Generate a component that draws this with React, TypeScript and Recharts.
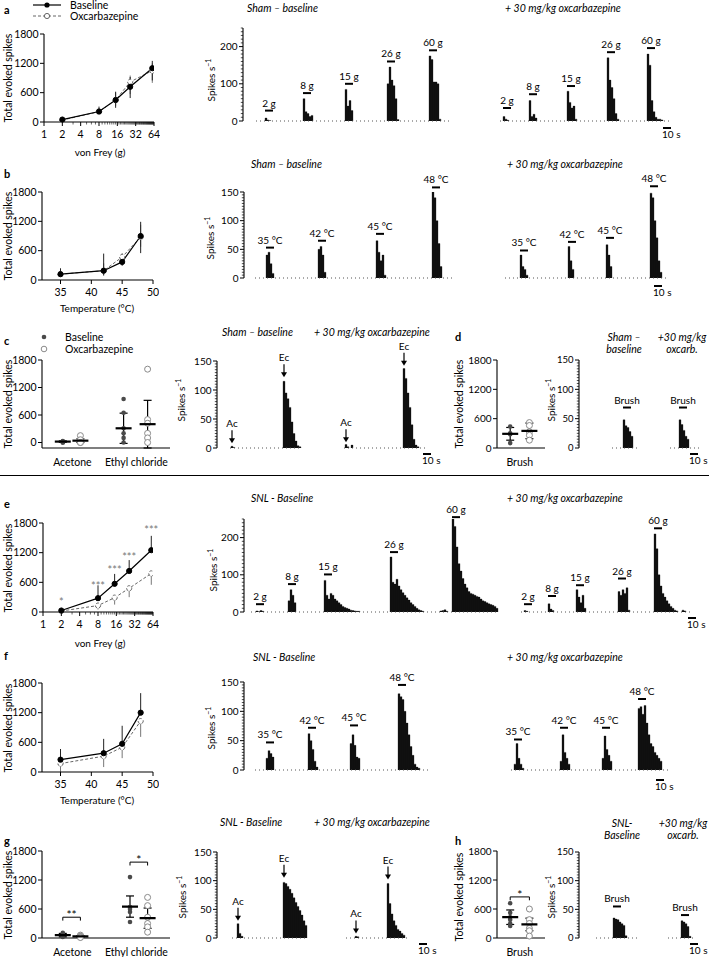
import React from 'react'
import {
  LineChart, Line, BarChart, Bar, ScatterChart, Scatter, XAxis, YAxis,
  ErrorBar, ReferenceDot, ReferenceLine,
} from 'recharts'

const FONT = "Lato, 'Open Sans', sans-serif"
const BIN = 2.5 // seconds per histogram bin

// ---- line charts (total evoked spikes) ----
const spikeTicks = [0, 600, 1200, 1800]
const vfForce = [2, 8, 15, 26, 60]
const vfMajor = [1, 2, 4, 8, 16, 32, 64]
const vfMinor = Array.from({ length: 64 }, (_, i) => i + 1)
const temps = [35, 42, 45, 48]
const tempTicks = [35, 40, 45, 50]

const aBaseMean = [50, 215, 450, 720, 1100]
const aBaseErr = [[20, 20], [60, 100], [160, 170], [230, 200], [250, 150]]
const aOxMean = [40, 210, 450, 820, 1050]
const aOxErr = [[20, 20], [50, 60], [120, 150], [250, 130], [250, 150]]

const bBaseMean = [120, 190, 370, 900]
const bBaseErr = [[60, 120], [100, 350], [80, 120], [350, 290]]
const bOxMean = [120, 190, 470, 880]
const bOxErr = [[50, 80], [80, 150], [70, 80], [200, 250]]

const eBaseMean = [30, 280, 570, 830, 1250]
const eBaseErr = [[0, 20], [0, 260], [0, 200], [0, 220], [0, 290]]
const eOxMean = [20, 130, 290, 480, 780]
const eOxErr = [[15, 0], [80, 0], [140, 0], [180, 0], [230, 0]]
const eStars = ['*', '***', '***', '***', '***']
const eStarY = [200, 520, 840, 1110, 1650]

const fBaseMean = [250, 380, 570, 1200]
const fBaseErr = [[0, 215], [0, 290], [0, 365], [0, 395]]
const fOxMean = [170, 320, 500, 1030]
const fOxErr = [[170, 0], [220, 0], [220, 0], [320, 0]]

// ---- scatter / mean ± SD ----
const coldCats = ['Acetone', 'Ethyl chloride']
const brushCats = ['Brush']
const cBasePts = [[30, 20, 10, 0, 0], [950, 650, 310, 200, 100, 0]]
const cOxPts = [[150, 60, 0, 0], [1600, 500, 420, 200, 100, 0]]
const cBaseMean = [20, 310]
const cBaseSd = [15, 330]
const cOxMean = [40, 400]
const cOxSd = [40, 520]

const gBasePts = [[110, 80, 60, 40, 20], [1260, 640, 600, 540, 330]]
const gOxPts = [[60, 40, 30, 20, 10], [840, 670, 430, 300, 230, 120]]
const gBaseMean = [60, 650]
const gBaseSd = [35, 220]
const gOxMean = [35, 410]
const gOxSd = [15, 210]
const gSig = [{ s: '**', y: 430 }, { s: '*', y: 1570 }]

const dBasePts = [[440, 300, 280, 100]]
const dOxPts = [[520, 460, 330, 260, 160]]
const dBaseMean = [290]
const dBaseSd = [130]
const dOxMean = [350]
const dOxSd = [160]

const hBasePts = [[720, 520, 430, 380, 300, 250]]
const hOxPts = [[600, 380, 300, 200, 150, 40]]
const hBaseMean = [430]
const hBaseSd = [150]
const hOxMean = [280]
const hOxSd = [130]
const hSig = [{ s: '*', y: 850 }]

// ---- histograms (spikes per bin), t = onset in s ----
type Burst = { t: number; v: number[]; tag?: string; lv?: number }

const aBase: Burst[] = [
  { t: 27.5, v: [8, 3, 1], tag: '2 g', lv: 28 },
  { t: 75, v: [60, 25, 20, 12, 15], tag: '8 g', lv: 75 },
  { t: 127.5, v: [85, 40, 55, 28], tag: '15 g', lv: 100 },
  { t: 180, v: [100, 145, 110, 95, 60, 4], tag: '26 g', lv: 160 },
  { t: 232.5, v: [175, 165, 105, 105, 100, 5], tag: '60 g', lv: 190 },
]
const aOx: Burst[] = [
  { t: 325, v: [12, 5, 2], tag: '2 g', lv: 35 },
  { t: 357.5, v: [55, 12, 18, 8], tag: '8 g', lv: 72 },
  { t: 405, v: [80, 50, 35, 40, 5], tag: '15 g', lv: 94 },
  { t: 455, v: [170, 110, 90, 60, 20, 5], tag: '26 g', lv: 185 },
  { t: 505, v: [180, 150, 55, 25, 10, 5, 5, 3], tag: '60 g', lv: 196 },
]
const bBase: Burst[] = [
  { t: 27.5, v: [40, 45, 25, 8], tag: '35 °C', lv: 53 },
  { t: 92.5, v: [50, 55, 40, 10], tag: '42 °C', lv: 65 },
  { t: 165, v: [65, 45, 30, 40, 5], tag: '45 °C', lv: 77 },
  { t: 235, v: [150, 140, 100, 60, 20], tag: '48 °C', lv: 158 },
]
const bOx: Burst[] = [
  { t: 345, v: [40, 20, 15, 5], tag: '35 °C', lv: 48 },
  { t: 405, v: [55, 30, 15], tag: '42 °C', lv: 63 },
  { t: 452.5, v: [58, 40, 20], tag: '45 °C', lv: 70 },
  { t: 507.5, v: [148, 140, 100, 70, 30, 10], tag: '48 °C', lv: 160 },
]
const cBase: Burst[] = [
  { t: 17.5, v: [3, 1], tag: 'Ac', lv: 8 },
  { t: 82.5, v: [115, 95, 85, 70, 45, 25, 12, 4, 2], tag: 'Ec', lv: 122 },
]
const cOx: Burst[] = [
  { t: 160, v: [6, 2, 0, 5], tag: 'Ac', lv: 10 },
  { t: 232.5, v: [137, 120, 95, 70, 40, 15, 5, 2], tag: 'Ec', lv: 142 },
]
const dBase: Burst[] = [{ t: 55, v: [48, 38, 35, 28, 20], tag: 'Brush', lv: 69 }]
const dOx: Burst[] = [{ t: 125, v: [48, 40, 30, 20, 15], tag: 'Brush', lv: 69 }]
const eBase: Burst[] = [
  { t: 15, v: [3, 1, 4, 2], tag: '2 g', lv: 21 },
  { t: 55, v: [30, 60, 45, 25], tag: '8 g', lv: 75 },
  { t: 100, v: [85, 45, 35, 50, 45, 35, 30, 25, 20, 15, 12, 10, 8, 5, 4, 3, 2, 2], tag: '15 g', lv: 101 },
  { t: 182.5, v: [148, 80, 75, 88, 70, 60, 52, 45, 38, 32, 25, 20, 15, 10, 6, 4, 2], tag: '26 g', lv: 161 },
  { t: 245, v: [3, 4, 6, 2] },
  { t: 260, v: [250, 230, 175, 130, 110, 90, 75, 65, 55, 50, 48, 45, 42, 40, 35, 30, 28, 25, 22, 20, 18, 15, 10], tag: '60 g', lv: 255 },
]
const eOx: Burst[] = [
  { t: 350, v: [4, 2], tag: '2 g', lv: 21 },
  { t: 380, v: [22, 8, 4], tag: '8 g', lv: 43 },
  { t: 415, v: [60, 40, 25, 45, 10], tag: '15 g', lv: 72 },
  { t: 467.5, v: [55, 45, 60, 50, 65, 5], tag: '26 g', lv: 90 },
  { t: 512.5, v: [210, 170, 100, 70, 50, 40, 30, 22, 15, 10, 5, 3], tag: '60 g', lv: 225 },
  { t: 547.5, v: [5, 3] },
]
const fBase: Burst[] = [
  { t: 27.5, v: [20, 33, 28, 22], tag: '35 °C', lv: 47 },
  { t: 80, v: [62, 50, 35, 15, 5], tag: '42 °C', lv: 72 },
  { t: 132.5, v: [45, 60, 42, 22, 20], tag: '45 °C', lv: 76 },
  { t: 192.5, v: [130, 125, 120, 100, 80, 60, 40, 25, 10, 5, 3], tag: '48 °C', lv: 145 },
]
const fOx: Burst[] = [
  { t: 337.5, v: [10, 45, 20, 10, 3], tag: '35 °C', lv: 52 },
  { t: 395, v: [15, 60, 30, 20, 10], tag: '42 °C', lv: 72 },
  { t: 447.5, v: [20, 58, 35, 25, 15], tag: '45 °C', lv: 72 },
  { t: 492.5, v: [105, 108, 95, 110, 80, 60, 45, 40, 30, 25, 20, 15], tag: '48 °C', lv: 121 },
]
const gBase: Burst[] = [
  { t: 25, v: [25, 8, 3], tag: 'Ac', lv: 30 },
  { t: 82.5, v: [97, 95, 90, 85, 78, 70, 62, 55, 48, 40, 30, 22], tag: 'Ec', lv: 105 },
]
const gOx: Burst[] = [
  { t: 172.5, v: [3, 2], tag: 'Ac', lv: 8 },
  { t: 212.5, v: [95, 60, 42, 30, 22, 15, 12, 8, 5], tag: 'Ec', lv: 102 },
]
const hBase: Burst[] = [{ t: 42.5, v: [35, 33, 32, 28, 25, 22, 4], tag: 'Brush', lv: 55 }]
const hOx: Burst[] = [{ t: 127.5, v: [30, 28, 25, 20, 3], tag: 'Brush', lv: 40 }]

function buildBins(n: number, bursts: Burst[]) {
  const rows = Array.from({ length: n }, (_, i) => ({ i, v: 0 }))
  bursts.forEach((b) => {
    const s = Math.round(b.t / BIN)
    b.v.forEach((val, k) => {
      if (rows[s + k]) rows[s + k].v = val
    })
  })
  return rows
}

const yTick = (major: number[], size = 10) => (p: any) => {
  const v = p.payload.value
  const big = major.includes(v)
  return (
    <g>
      <line x1={p.x} x2={p.x - (big ? 4 : 2.2)} y1={p.y} y2={p.y} stroke="#000" strokeWidth={big ? 1 : 0.7} />
      {big && (
        <text x={p.x - 5.5} y={p.y} dy="0.35em" textAnchor="end" fontSize={size} fontFamily={FONT} fill="#000">
          {v}
        </text>
      )}
    </g>
  )
}

const xTick = (major: number[]) => (p: any) => {
  const v = p.payload.value
  const big = major.includes(v)
  return (
    <g>
      <line x1={p.x} x2={p.x} y1={p.y} y2={p.y + (big ? 4 : 2.5)} stroke="#000" strokeWidth={big ? 1 : 0.6} />
      {big && (
        <text x={p.x} y={p.y + 16} textAnchor="middle" fontSize={10.5} fontFamily={FONT} fill="#000">
          {v}
        </text>
      )}
    </g>
  )
}

const catTick = (cats: string[], at: number[]) => (p: any) => {
  const k = at.indexOf(p.payload.value)
  return (
    <text x={p.x} y={p.y + 18} textAnchor="middle" fontSize={10.5} fontFamily={FONT} fill="#000">
      {cats[k]}
    </text>
  )
}

function Hist({ x, y, h, n, yMax, major, step, bursts, spans, arrows, tickSize = 10 }: any) {
  const data = buildBins(n, bursts)
  const ticks: number[] = []
  for (let v = 0; v <= yMax; v += step) ticks.push(v)
  const yw = 30
  const mt = 24
  const mb = 7
  const tagged = bursts.filter((b: Burst) => b.tag)
  return (
    <div style={{ position: 'absolute', left: x - yw, top: y - mt }}>
      <BarChart width={yw + n * 2 + 2} height={mt + h + mb} data={data}
        margin={{ top: mt, right: 2, bottom: mb, left: 0 }} barCategoryGap={0} barGap={0}>
        <XAxis dataKey="i" hide />
        <YAxis width={yw} domain={[0, yMax]} ticks={ticks} interval={0} tickSize={0} tickMargin={0}
          tickLine={false} axisLine={{ stroke: '#000', strokeWidth: 1.1 }} tick={yTick(major, tickSize)} allowDataOverflow />
        {spans.map((s: number[], k: number) => (
          <ReferenceLine key={'s' + k} segment={[{ x: Math.round(s[0] / BIN), y: 0 }, { x: Math.round(s[1] / BIN), y: 0 }]}
            stroke="#555" strokeWidth={1} strokeDasharray="1 3" ifOverflow="visible" />
        ))}
        <Bar dataKey="v" fill="#111" stroke="#111" strokeWidth={0.3} isAnimationActive={false} />
        {tagged.map((b: Burst, k: number) => (
          <ReferenceDot key={'t' + k} x={Math.round(b.t / BIN)} y={b.lv} ifOverflow="visible"
            shape={(p: any) =>
              arrows ? (
                <g>
                  <line x1={p.cx} x2={p.cx} y1={p.cy - 13} y2={p.cy - 4} stroke="#000" strokeWidth={1.2} />
                  <path d={`M${p.cx - 3},${p.cy - 5} L${p.cx + 3},${p.cy - 5} L${p.cx},${p.cy} Z`} fill="#000" />
                  <text x={p.cx} y={p.cy - 16} textAnchor="middle" fontSize={10} fontFamily={FONT}>{b.tag}</text>
                </g>
              ) : (
                <g>
                  <line x1={p.cx - 1} x2={p.cx + 7} y1={p.cy} y2={p.cy} stroke="#000" strokeWidth={2} />
                  <text x={p.cx + 3} y={p.cy - 4} textAnchor="middle" fontSize={10} fontFamily={FONT}>{b.tag}</text>
                </g>
              )
            }
          />
        ))}
      </BarChart>
    </div>
  )
}

function Curve({ x, y, w, h, xs, base, baseErr, ox, oxErr, log, domain, ticks, major, stars, starY }: any) {
  const data = xs.map((v: number, k: number) => ({ x: v, b: base[k], be: baseErr[k], o: ox[k], oe: oxErr[k] }))
  const mt = 8
  const xh = 22
  return (
    <div style={{ position: 'absolute', left: 0, top: y - mt }}>
      <LineChart width={x + w + 6} height={mt + h + xh} data={data} margin={{ top: mt, right: 6, bottom: 0, left: 0 }}>
        <XAxis dataKey="x" type="number" scale={log ? 'log' : 'linear'} domain={domain} ticks={ticks} interval={0}
          tickSize={0} tickMargin={0} tickLine={false} height={xh} axisLine={{ stroke: '#000', strokeWidth: 1.1 }}
          tick={xTick(major)} allowDataOverflow />
        <YAxis width={x} domain={[0, 1800]} ticks={spikeTicks} interval={0} tickSize={0} tickMargin={0}
          tickLine={false} axisLine={{ stroke: '#000', strokeWidth: 1.1 }} tick={yTick(spikeTicks, 10.5)} />
        <Line dataKey="o" stroke="#666" strokeWidth={1} strokeDasharray="3 2" isAnimationActive={false}
          dot={{ r: 2.6, fill: '#fff', stroke: '#666', strokeWidth: 1 }} activeDot={false}>
          <ErrorBar dataKey="oe" width={0} stroke="#777" strokeWidth={1} direction="y" />
        </Line>
        <Line dataKey="b" stroke="#000" strokeWidth={1.2} isAnimationActive={false}
          dot={{ r: 2.6, fill: '#000', stroke: '#000', strokeWidth: 1 }} activeDot={false}>
          <ErrorBar dataKey="be" width={0} stroke="#222" strokeWidth={1} direction="y" />
        </Line>
        {stars && stars.map((s: string, k: number) => (
          <ReferenceDot key={k} x={xs[k]} y={starY[k]} ifOverflow="visible"
            shape={(p: any) => (
              <text x={p.cx} y={p.cy + 4} textAnchor="middle" fontSize={11} fontFamily={FONT} fill="#777">{s}</text>
            )} />
        ))}
      </LineChart>
    </div>
  )
}

function Groups({ x, y, w, h, domain, cats, catAt, gxBase, gxOx, basePts, oxPts, baseMean, baseSd, oxMean, oxSd, sig, tickSize = 10.5 }: any) {
  const bp = basePts.flatMap((arr: number[], k: number) => arr.map((v) => ({ x: gxBase[k], y: v })))
  const op = oxPts.flatMap((arr: number[], k: number) => arr.map((v) => ({ x: gxOx[k], y: v })))
  const bm = baseMean.map((m: number, k: number) => ({ x: gxBase[k], y: m, sd: baseSd[k] }))
  const om = oxMean.map((m: number, k: number) => ({ x: gxOx[k], y: m, sd: oxSd[k] }))
  const yw = 40
  const mt = 8
  const xh = 24
  const meanShape = (p: any) => <line x1={p.cx - 8} x2={p.cx + 8} y1={p.cy} y2={p.cy} stroke="#000" strokeWidth={2.2} />
  return (
    <div style={{ position: 'absolute', left: x - yw, top: y - mt }}>
      <ScatterChart width={yw + w + 4} height={mt + h + xh} margin={{ top: mt, right: 4, bottom: 0, left: 0 }}>
        <XAxis type="number" dataKey="x" domain={domain} ticks={catAt} interval={0} tickSize={0} tickMargin={0}
          tickLine={false} height={xh} axisLine={{ stroke: '#000', strokeWidth: 1.1 }} tick={catTick(cats, catAt)} allowDataOverflow />
        <YAxis type="number" dataKey="y" width={yw} domain={[0, 1800]} ticks={spikeTicks} interval={0} tickSize={0}
          tickMargin={0} tickLine={false} axisLine={{ stroke: '#000', strokeWidth: 1.1 }} tick={yTick(spikeTicks, tickSize)} />
        <Scatter data={bp} isAnimationActive={false}
          shape={(p: any) => <circle cx={p.cx} cy={p.cy} r={2.3} fill="#4a4a4a" />} />
        <Scatter data={op} isAnimationActive={false}
          shape={(p: any) => <circle cx={p.cx} cy={p.cy} r={3} fill="#fff" stroke="#8a8a8a" strokeWidth={1} />} />
        <Scatter data={bm} isAnimationActive={false} shape={meanShape}>
          <ErrorBar dataKey="sd" width={4} stroke="#000" strokeWidth={1.2} direction="y" />
        </Scatter>
        <Scatter data={om} isAnimationActive={false} shape={meanShape}>
          <ErrorBar dataKey="sd" width={4} stroke="#000" strokeWidth={1.2} direction="y" />
        </Scatter>
        {sig && sig.map((s: any, k: number) => (
          <React.Fragment key={k}>
            <ReferenceLine segment={[{ x: gxBase[k], y: s.y }, { x: gxOx[k], y: s.y }]} stroke="#000" ifOverflow="visible" />
            <ReferenceLine segment={[{ x: gxBase[k], y: s.y }, { x: gxBase[k], y: s.y - 70 }]} stroke="#000" ifOverflow="visible" />
            <ReferenceLine segment={[{ x: gxOx[k], y: s.y }, { x: gxOx[k], y: s.y - 70 }]} stroke="#000" ifOverflow="visible" />
            <ReferenceDot x={(gxBase[k] + gxOx[k]) / 2} y={s.y} ifOverflow="visible"
              shape={(p: any) => (
                <text x={p.cx} y={p.cy + 2} textAnchor="middle" fontSize={12} fontFamily={FONT}>{s.s}</text>
              )} />
          </React.Fragment>
        ))}
      </ScatterChart>
    </div>
  )
}

function T({ x, y, children, size = 10, anchor = 'start', italic = false, bold = false, rotate = false }: any) {
  const tx = anchor === 'middle' ? '-50%' : anchor === 'end' ? '-100%' : '0'
  return (
    <div style={{
      position: 'absolute', left: x, top: y,
      transform: rotate ? 'translate(-50%, -50%) rotate(-90deg)' : `translate(${tx}, -50%)`,
      fontSize: size, fontStyle: italic ? 'italic' : 'normal', fontWeight: bold ? 700 : 400,
      whiteSpace: 'nowrap', lineHeight: 1, fontFamily: FONT, color: '#000',
    }}>
      {children}
    </div>
  )
}

function ScaleBar({ x, y }: any) {
  return (
    <>
      <div style={{ position: 'absolute', left: x, top: y, width: 8, height: 1.6, background: '#000' }} />
      <div style={{ position: 'absolute', left: x - 1, top: y + 2, fontSize: 10, lineHeight: 1, fontFamily: FONT, whiteSpace: 'nowrap' }}>10 s</div>
    </>
  )
}

const spk = <span>Spikes s<sup style={{ fontSize: 7 }}>−1</sup></span>

export default function App() {
  const h150 = { yMax: 150, major: [0, 50, 100, 150], step: 5 }
  const h250 = { yMax: 250, major: [0, 100, 200], step: 10 }
  return (
    <div style={{ position: 'absolute', left: 0, top: 0, width: 709, height: 957, background: '#fff', overflow: 'hidden', fontFamily: FONT }}>
      {/* panel letters */}
      <T x={4} y={9} size={11} bold>a</T>
      <T x={4} y={173} size={11} bold>b</T>
      <T x={4} y={340} size={11} bold>c</T>
      <T x={455} y={336} size={11} bold>d</T>
      <T x={4} y={503} size={11} bold>e</T>
      <T x={4} y={655} size={11} bold>f</T>
      <T x={4} y={840} size={11} bold>g</T>
      <T x={455} y={840} size={11} bold>h</T>

      {/* legend a */}
      <svg style={{ position: 'absolute', left: 30, top: 0 }} width={34} height={22}>
        <line x1={3} x2={31} y1={5} y2={5} stroke="#000" strokeWidth={1.2} />
        <circle cx={17} cy={5} r={2.6} fill="#000" />
        <line x1={3} x2={31} y1={16} y2={16} stroke="#666" strokeDasharray="3 2" />
        <circle cx={17} cy={16} r={2.6} fill="#fff" stroke="#666" />
      </svg>
      <T x={70} y={5} size={10.5}>Baseline</T>
      <T x={70} y={16} size={10.5}>Oxcarbazepine</T>

      {/* legend c */}
      <svg style={{ position: 'absolute', left: 38, top: 330 }} width={14} height={26}>
        <circle cx={6} cy={7} r={2.3} fill="#4a4a4a" />
        <circle cx={6} cy={19} r={2.8} fill="#fff" stroke="#8a8a8a" />
      </svg>
      <T x={65} y={337} size={10.5}>Baseline</T>
      <T x={65} y={349} size={10.5}>Oxcarbazepine</T>

      {/* axis titles */}
      <T x={8} y={78} size={10.5} rotate>Total evoked spikes</T>
      <T x={8} y={236} size={10.5} rotate>Total evoked spikes</T>
      <T x={8} y={404} size={10.5} rotate>Total evoked spikes</T>
      <T x={459} y={404} size={10.5} rotate>Total evoked spikes</T>
      <T x={8} y={568} size={10.5} rotate>Total evoked spikes</T>
      <T x={8} y={728} size={10.5} rotate>Total evoked spikes</T>
      <T x={8} y={895} size={10.5} rotate>Total evoked spikes</T>
      <T x={459} y={897} size={10.5} rotate>Total evoked spikes</T>
      <T x={100} y={152} anchor="middle">von Frey (g)</T>
      <T x={97} y={308} anchor="middle">Temperature (°C)</T>
      <T x={100} y={643} anchor="middle">von Frey (g)</T>
      <T x={97} y={800} anchor="middle">Temperature (°C)</T>
      <T x={211} y={80} rotate>{spk}</T>
      <T x={210} y={238} rotate>{spk}</T>
      <T x={181} y={400} rotate>{spk}</T>
      <T x={551} y={400} rotate>{spk}</T>
      <T x={213} y={570} rotate>{spk}</T>
      <T x={211} y={728} rotate>{spk}</T>
      <T x={182} y={897} rotate>{spk}</T>
      <T x={551} y={897} rotate>{spk}</T>

      {/* histogram titles */}
      <T x={247} y={8} size={10.5} italic>Sham – baseline</T>
      <T x={505} y={8} size={10.5} italic>+ 30 mg/kg oxcarbazepine</T>
      <T x={251} y={164} size={10.5} italic>Sham – baseline</T>
      <T x={507} y={164} size={10.5} italic>+ 30 mg/kg oxcarbazepine</T>
      <T x={222} y={332} size={10.5} italic>Sham – baseline</T>
      <T x={314} y={332} size={10.5} italic>+ 30 mg/kg oxcarbazepine</T>
      <T x={624} y={337} size={10.5} italic anchor="middle">Sham –</T>
      <T x={624} y={349} size={10.5} italic anchor="middle">baseline</T>
      <T x={682} y={337} size={10.5} italic anchor="middle">+30 mg/kg</T>
      <T x={682} y={349} size={10.5} italic anchor="middle">oxcarb.</T>
      <T x={251} y={498} size={10.5} italic>SNL - Baseline</T>
      <T x={507} y={498} size={10.5} italic>+ 30 mg/kg oxcarbazepine</T>
      <T x={253} y={657} size={10.5} italic>SNL - Baseline</T>
      <T x={507} y={657} size={10.5} italic>+ 30 mg/kg oxcarbazepine</T>
      <T x={220} y={822} size={10.5} italic>SNL - Baseline</T>
      <T x={314} y={822} size={10.5} italic>+ 30 mg/kg oxcarbazepine</T>
      <T x={622} y={823} size={10.5} italic anchor="middle">SNL-</T>
      <T x={622} y={835} size={10.5} italic anchor="middle">Baseline</T>
      <T x={683} y={823} size={10.5} italic anchor="middle">+30 mg/kg</T>
      <T x={683} y={835} size={10.5} italic anchor="middle">oxcarb.</T>

      {/* line charts */}
      <Curve x={44} y={34} w={110} h={88} xs={vfForce} base={aBaseMean} baseErr={aBaseErr} ox={aOxMean} oxErr={aOxErr}
        log domain={[1, 64]} ticks={vfMinor} major={vfMajor} />
      <Curve x={42} y={192} w={111} h={88} xs={temps} base={bBaseMean} baseErr={bBaseErr} ox={bOxMean} oxErr={bOxErr}
        domain={[32, 50]} ticks={tempTicks} major={tempTicks} />
      <Curve x={43} y={523} w={110} h={89} xs={vfForce} base={eBaseMean} baseErr={eBaseErr} ox={eOxMean} oxErr={eOxErr}
        log domain={[1, 64]} ticks={vfMinor} major={vfMajor} stars={eStars} starY={eStarY} />
      <Curve x={42} y={683} w={111} h={89} xs={temps} base={fBaseMean} baseErr={fBaseErr} ox={fOxMean} oxErr={fOxErr}
        domain={[32, 50]} ticks={tempTicks} major={tempTicks} />

      {/* scatter panels */}
      <Groups x={42} y={360} w={128} h={88} domain={[0, 4]} cats={coldCats} catAt={[0.95, 2.95]}
        gxBase={[0.65, 2.55]} gxOx={[1.2, 3.3]} basePts={cBasePts} oxPts={cOxPts}
        baseMean={cBaseMean} baseSd={cBaseSd} oxMean={cOxMean} oxSd={cOxSd} />
      <Groups x={497} y={360} w={48} h={88} domain={[0, 2]} cats={brushCats} catAt={[0.95]}
        gxBase={[0.55]} gxOx={[1.35]} basePts={dBasePts} oxPts={dOxPts}
        baseMean={dBaseMean} baseSd={dBaseSd} oxMean={dOxMean} oxSd={dOxSd} tickSize={10} />
      <Groups x={42} y={851} w={128} h={87} domain={[0, 4]} cats={coldCats} catAt={[0.95, 2.95]}
        gxBase={[0.65, 2.75]} gxOx={[1.2, 3.3]} basePts={gBasePts} oxPts={gOxPts}
        baseMean={gBaseMean} baseSd={gBaseSd} oxMean={gOxMean} oxSd={gOxSd} sig={gSig} />
      <Groups x={497} y={851} w={48} h={87} domain={[0, 2]} cats={brushCats} catAt={[0.95]}
        gxBase={[0.55]} gxOx={[1.35]} basePts={hBasePts} oxPts={hOxPts}
        baseMean={hBaseMean} baseSd={hBaseSd} oxMean={hOxMean} oxSd={hOxSd} sig={hSig} tickSize={10} />

      {/* histograms */}
      <Hist x={243} y={28} h={93} n={218} {...h250} bursts={[...aBase, ...aOx]} spans={[[15, 260], [320, 535]]} />
      <Hist x={244} y={192} h={86} n={217} {...h150} bursts={[...bBase, ...bOx]} spans={[[12.5, 262.5], [325, 530]]} />
      <Hist x={217} y={361} h={87} n={114} {...h150} bursts={[...cBase, ...cOx]} spans={[[15, 102.5], [157.5, 262.5]]} arrows />
      <Hist x={579} y={360} h={88} n={62} {...h150} bursts={[...dBase, ...dOx]} spans={[[40, 75], [112.5, 150]]} tickSize={9.5} />
      <Hist x={244} y={519} h={93} n={228} {...h250} bursts={[...eBase, ...eOx]} spans={[[7.5, 317.5], [345, 557.5]]} />
      <Hist x={244} y={682} h={88} n={217} {...h150} bursts={[...fBase, ...fOx]} spans={[[12.5, 232.5], [332.5, 530]]} />
      <Hist x={217} y={852} h={86} n={114} {...h150} bursts={[...gBase, ...gOx]} spans={[[17.5, 110], [160, 240]]} arrows />
      <Hist x={579} y={852} h={86} n={62} {...h150} bursts={[...hBase, ...hOx]} spans={[[20, 72.5], [110, 145]]} tickSize={9.5} />

      {/* scale bars */}
      <ScaleBar x={663} y={127} />
      <ScaleBar x={654} y={285} />
      <ScaleBar x={423} y={453} />
      <ScaleBar x={690} y={453} />
      <ScaleBar x={688} y={617} />
      <ScaleBar x={656} y={779} />
      <ScaleBar x={419} y={943} />
      <ScaleBar x={690} y={943} />

      {/* separator between sham and SNL */}
      <div style={{ position: 'absolute', left: 0, top: 475, width: 709, height: 1.3, background: '#000' }} />
    </div>
  )
}
